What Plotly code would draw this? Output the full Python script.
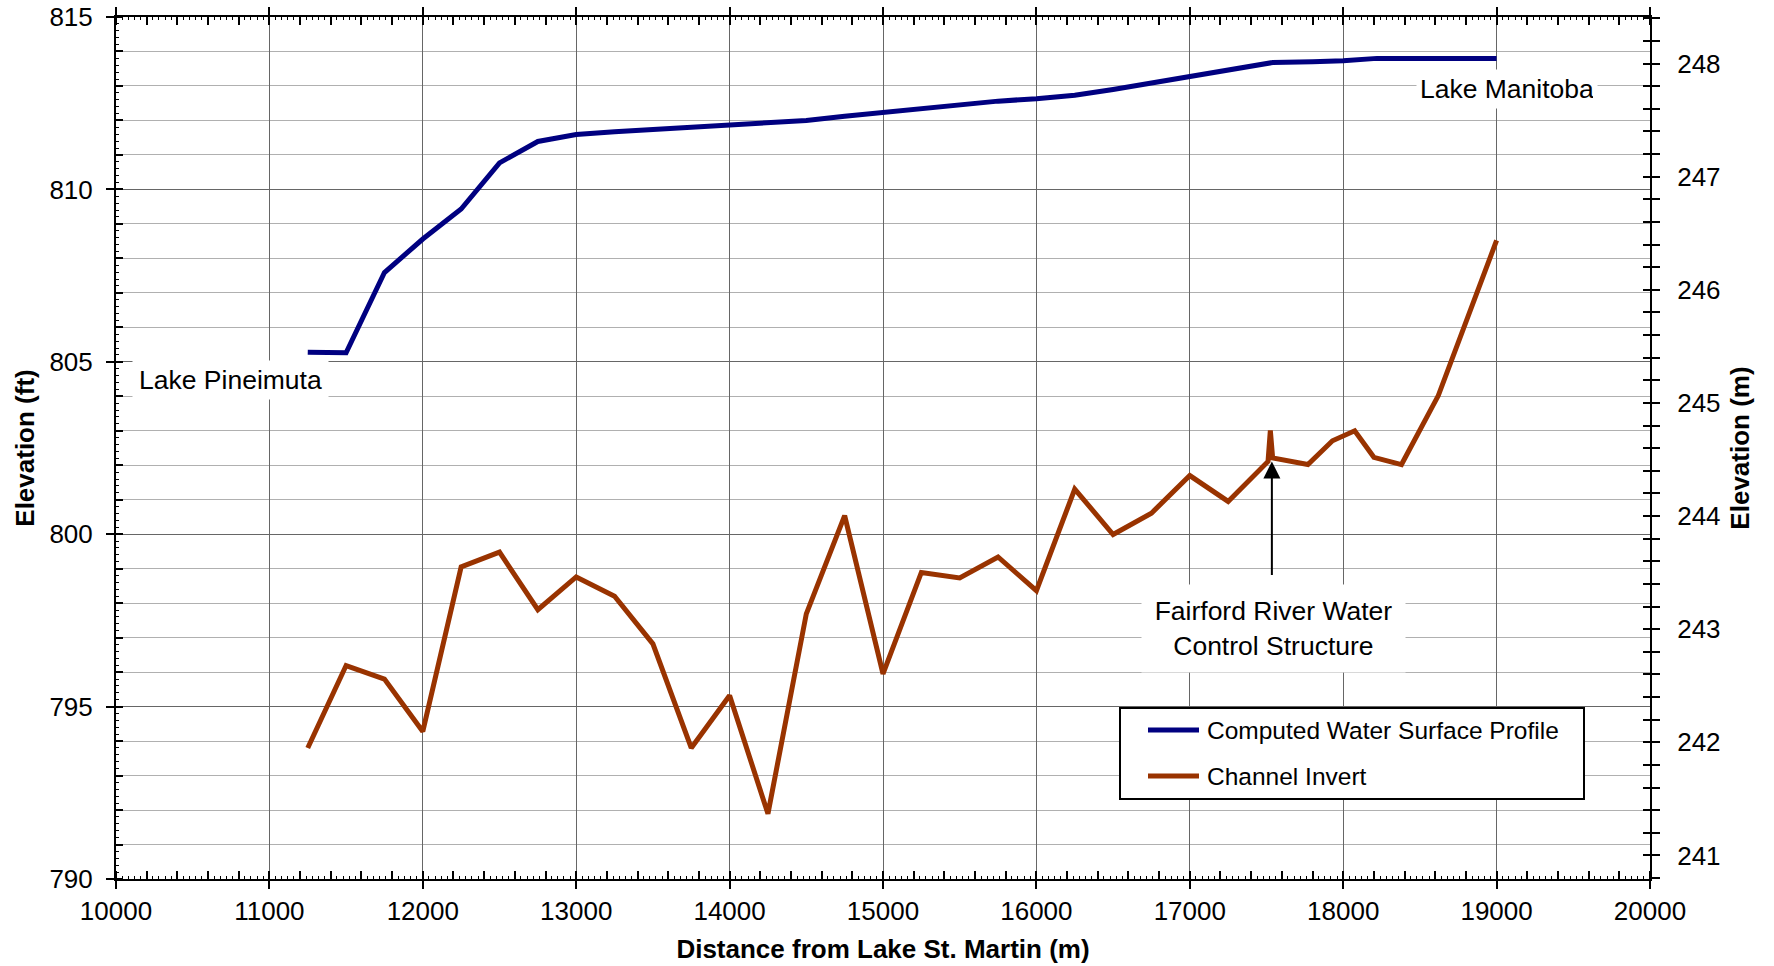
import plotly.graph_objects as go

# ---------------- data ----------------
distance_wsp = [11250, 11500, 11750, 12000, 12250, 12500, 12750, 13000, 13250, 13500,
                13750, 14000, 14250, 14500, 14750, 15000, 15250, 15500, 15750, 16000,
                16250, 16500, 16750, 17000, 17250, 17500, 17540, 17800, 18000, 18220, 19000]
wsp_ft = [805.28, 805.26, 807.59, 808.56, 809.43, 810.77, 811.39, 811.59, 811.67, 811.73,
          811.80, 811.86, 811.93, 812.00, 812.12, 812.23, 812.34, 812.45, 812.56, 812.63,
          812.73, 812.90, 813.08, 813.28, 813.46, 813.64, 813.68, 813.70, 813.73, 813.80, 813.80]

distance_inv = [11250, 11500, 11750, 12000, 12250, 12500, 12750, 13000, 13250, 13500,
                13750, 14000, 14250, 14500, 14750, 15000, 15250, 15500, 15750, 16000,
                16250, 16500, 16750, 17000, 17250, 17510, 17525, 17540, 17770, 17930,
                18075, 18200, 18380, 18620, 19000]
invert_ft = [793.80, 796.19, 795.80, 794.28, 799.05, 799.48, 797.81, 798.76, 798.20, 796.82,
             793.80, 795.32, 791.89, 797.69, 800.54, 795.95, 798.89, 798.73, 799.34, 798.36,
             801.31, 799.99, 800.61, 801.70, 800.95, 802.11, 803.01, 802.21, 802.02, 802.71,
             803.00, 802.23, 802.02, 804.02, 808.52]

series_names = ["Computed Water Surface Profile", "Channel Invert"]
series_colors = ["#000080", "#993300"]

x_range = [10000, 20000]
y_range_ft = [790, 815]
FT_TO_M = 0.3048
y_range_m = [y_range_ft[0] * FT_TO_M, y_range_ft[1] * FT_TO_M]

annot_pineimuta = ("Lake Pineimuta", 10746, 804.48)
annot_manitoba = ("Lake Manitoba", 19068, 812.91)
annot_structure = ("Fairford River Water<br>Control Structure", 17545, 797.27)
arrow_tip = (17535, 802.11)

FONT = "Liberation Sans, Arial, Helvetica, sans-serif"

W, H = 1774, 966
ML, MR, MT, MB = 116, 124, 17, 87
PW, PH = W - ML - MR, H - MT - MB


def px_to_paper_x(px):
    return (px - ML) / PW


def px_to_paper_y(py):
    return (H - MB - py) / PH


fig = go.Figure()

fig.add_trace(go.Scatter(x=distance_wsp, y=wsp_ft, mode="lines", name=series_names[0],
                         line=dict(color=series_colors[0], width=5)))
fig.add_trace(go.Scatter(x=distance_inv, y=invert_ft, mode="lines", name=series_names[1],
                         line=dict(color=series_colors[1], width=5)))

# dummy traces so helper axes are rendered
fig.add_trace(go.Scatter(x=[None], y=[None], xaxis="x", yaxis="y2", hoverinfo="skip"))
fig.add_trace(go.Scatter(x=[None], y=[None], xaxis="x3", yaxis="y3", hoverinfo="skip"))
fig.add_trace(go.Scatter(x=[None], y=[None], xaxis="x", yaxis="y4", hoverinfo="skip"))

tickfont = dict(family=FONT, size=26, color="black")
titlefont = dict(family=FONT, size=26, color="black", weight="bold")

fig.update_layout(
    width=W, height=H,
    margin=dict(l=ML, r=MR, t=MT, b=MB),
    paper_bgcolor="white", plot_bgcolor="white",
    font=dict(family=FONT, color="black"),
    showlegend=False,
    xaxis=dict(
        range=x_range, dtick=1000, tick0=0, tickformat="d", automargin=False,
        showgrid=True, gridcolor="#666666", gridwidth=1,
        showline=True, linecolor="black", linewidth=2, mirror="allticks",
        ticks="outside", ticklen=8, tickcolor="black", tickwidth=1.5,
        tickfont=tickfont, ticklabelstandoff=0,
        minor=dict(dtick=200, ticks="inside", ticklen=6, tickcolor="black", tickwidth=1.5, showgrid=False),
        title=dict(text="Distance from Lake St. Martin (m)", font=titlefont, standoff=15),
        zeroline=False,
    ),
    yaxis=dict(
        range=y_range_ft, dtick=5, tick0=0, automargin=False,
        showgrid=True, gridcolor="#666666", gridwidth=1,
        showline=True, linecolor="black", linewidth=2, mirror=False,
        ticks="outside", ticklen=8, tickcolor="black", tickwidth=1.5,
        tickfont=tickfont, ticklabelstandoff=8,
        minor=dict(dtick=1, ticks="inside", ticklen=7, tickcolor="black", tickwidth=1.5,
                   showgrid=True, gridcolor="#b0b0b0", gridwidth=1),
        title=dict(text="Elevation (ft)", font=titlefont, standoff=7),
        zeroline=False,
    ),
    yaxis2=dict(
        range=y_range_m, overlaying="y", side="right", anchor="x", automargin=False,
        dtick=1, tick0=0, showgrid=False, zeroline=False,
        showline=True, linecolor="black", linewidth=2,
        ticks="outside", ticklen=8, tickcolor="black", tickwidth=1.5,
        tickfont=tickfont, ticklabelstandoff=12,
        minor=dict(dtick=0.2, tick0=0, ticks="outside", ticklen=8, tickcolor="black", tickwidth=1.5, showgrid=False),
        title=dict(text="Elevation (m)", font=titlefont, standoff=11),
    ),
    xaxis3=dict(
        range=x_range, overlaying="x", side="bottom", anchor="y", automargin=False,
        dtick=40, tick0=0, ticks="inside", ticklen=3, tickcolor="black", tickwidth=1,
        showticklabels=False, showgrid=False, zeroline=False, showline=False, mirror="allticks",
    ),
    yaxis3=dict(
        range=y_range_ft, overlaying="y", side="left", anchor="x", automargin=False,
        dtick=0.2, tick0=0, ticks="inside", ticklen=3, tickcolor="black", tickwidth=1,
        showticklabels=False, showgrid=False, zeroline=False, showline=False,
    ),
    yaxis4=dict(
        range=y_range_m, overlaying="y", side="right", anchor="x", automargin=False,
        dtick=0.2, tick0=0, ticks="inside", ticklen=7, tickcolor="black", tickwidth=1.5,
        showticklabels=False, showgrid=False, zeroline=False, showline=False,
    ),
)

# ---------- legend (drawn as a boxed key) ----------
LEG_BOX = (1120, 708, 1584, 799)      # px: left, top, right, bottom
LEG_LINE_X = (1148, 1199)
LEG_TEXT_X = 1205
LEG_ROWS_Y = [730, 776]

fig.add_shape(type="rect", xref="paper", yref="paper",
              x0=px_to_paper_x(LEG_BOX[0]), x1=px_to_paper_x(LEG_BOX[2]),
              y0=px_to_paper_y(LEG_BOX[3]), y1=px_to_paper_y(LEG_BOX[1]),
              line=dict(color="black", width=2), fillcolor="white", layer="above")
for name, color, ry in zip(series_names, series_colors, LEG_ROWS_Y):
    fig.add_shape(type="line", xref="paper", yref="paper",
                  x0=px_to_paper_x(LEG_LINE_X[0]), x1=px_to_paper_x(LEG_LINE_X[1]),
                  y0=px_to_paper_y(ry), y1=px_to_paper_y(ry),
                  line=dict(color=color, width=5), layer="above")
    fig.add_annotation(xref="paper", yref="paper", x=px_to_paper_x(LEG_TEXT_X), y=px_to_paper_y(ry),
                       xanchor="left", yanchor="middle", text=name, showarrow=False,
                       font=dict(family=FONT, size=24.5, color="black"))

# ---------- annotations ----------
fig.add_annotation(x=annot_pineimuta[1], y=annot_pineimuta[2], text=annot_pineimuta[0],
                   showarrow=False, bgcolor="white", width=187, height=30, borderpad=4,
                   font=dict(family=FONT, size=26.5, color="black"))
fig.add_annotation(x=annot_manitoba[1], y=annot_manitoba[2], text=annot_manitoba[0],
                   showarrow=False, bgcolor="white", width=172, height=30, borderpad=4,
                   font=dict(family=FONT, size=26.5, color="black"))
fig.add_annotation(x=annot_structure[1], y=annot_structure[2], text=annot_structure[0],
                   showarrow=False, bgcolor="white", width=255, height=79, borderpad=4,
                   font=dict(family=FONT, size=26.5, color="black"))
fig.add_annotation(x=arrow_tip[0], y=arrow_tip[1], text="", showarrow=True,
                   ax=0, ay=115, arrowhead=2, arrowsize=1.7, arrowwidth=2,
                   arrowcolor="black", standoff=0)

fig.write_html("out.html")
